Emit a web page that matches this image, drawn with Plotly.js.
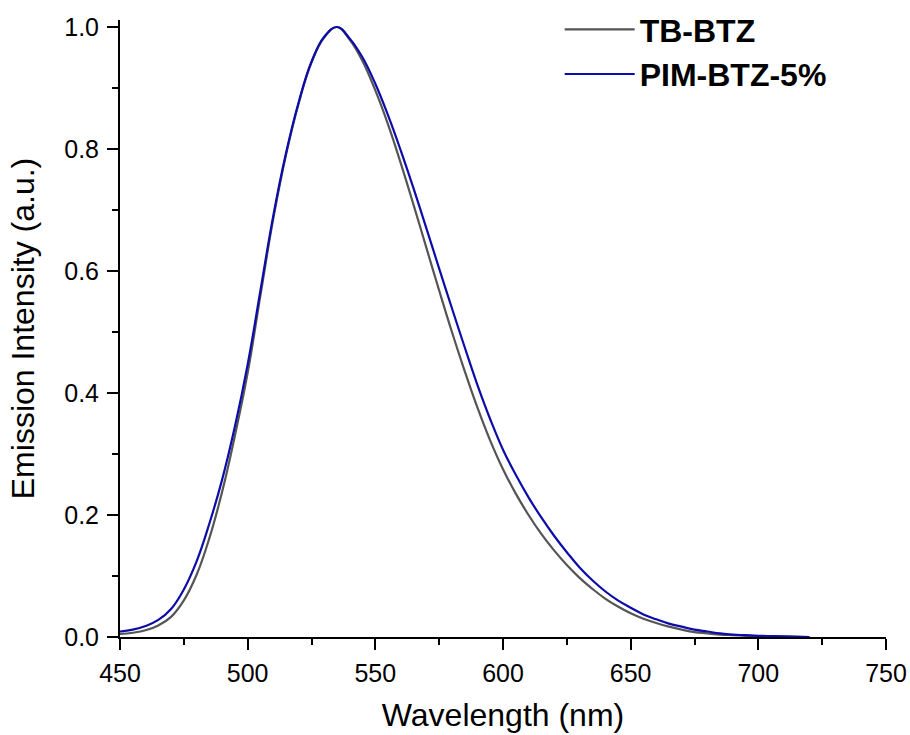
<!DOCTYPE html>
<html>
<head>
<meta charset="utf-8">
<script src="https://cdn.plot.ly/plotly-3.0.1.min.js"></script>
<style>
  html, body { margin: 0; padding: 0; background: #ffffff; }
  #chart { width: 910px; height: 735px; }
</style>
</head>
<body>
<div id="chart"></div>
<script>
// Wavelength grid (nm)
const wavelength = [450, 455, 460, 465, 470, 475, 480, 485, 490, 495, 500, 505, 510, 515, 520, 525, 530, 535, 540, 545, 550, 555, 560, 565, 570, 575, 580, 585, 590, 595, 600, 605, 610, 615, 620, 625, 630, 635, 640, 645, 650, 655, 660, 665, 670, 675, 680, 685, 690, 695, 700, 710, 720];

// TB-BTZ normalized emission
const tbBtz = [0.005, 0.007, 0.011, 0.019, 0.033, 0.060, 0.102, 0.162, 0.238, 0.330, 0.433, 0.560, 0.685, 0.790, 0.875, 0.942, 0.983, 1.000, 0.979, 0.944, 0.896, 0.840, 0.776, 0.708, 0.638, 0.568, 0.500, 0.436, 0.376, 0.322, 0.275, 0.235, 0.200, 0.169, 0.142, 0.118, 0.097, 0.079, 0.063, 0.050, 0.039, 0.030, 0.023, 0.017, 0.012, 0.008, 0.006, 0.004, 0.003, 0.002, 0.001, 0.0005, 0.0];

// PIM-BTZ-5% normalized emission
const pimBtz = [0.009, 0.012, 0.018, 0.028, 0.046, 0.078, 0.124, 0.186, 0.258, 0.345, 0.447, 0.568, 0.690, 0.793, 0.877, 0.943, 0.984, 1.000, 0.981, 0.950, 0.907, 0.855, 0.797, 0.735, 0.670, 0.604, 0.539, 0.475, 0.413, 0.357, 0.307, 0.266, 0.229, 0.196, 0.166, 0.139, 0.114, 0.093, 0.075, 0.060, 0.048, 0.037, 0.029, 0.022, 0.017, 0.012, 0.009, 0.006, 0.004, 0.003, 0.002, 0.001, 0.0];

const seriesNames = ["TB-BTZ", "PIM-BTZ-5%"];
const xTickVals = [450, 500, 550, 600, 650, 700, 750];
const yTickVals = [0.0, 0.2, 0.4, 0.6, 0.8, 1.0];
const yTickText = ["0.0", "0.2", "0.4", "0.6", "0.8", "1.0"];

const FONT = '"Liberation Sans", Arial, "DejaVu Sans", sans-serif';

const traces = [
  {
    x: wavelength, y: tbBtz, name: seriesNames[0],
    type: 'scatter', mode: 'lines',
    line: { color: '#555555', width: 2.2, shape: 'spline', smoothing: 1.2 }
  },
  {
    x: wavelength, y: pimBtz, name: seriesNames[1],
    type: 'scatter', mode: 'lines',
    line: { color: '#0c0caa', width: 2.2, shape: 'spline', smoothing: 1.2 }
  }
];

const layout = {
  width: 910, height: 735,
  paper_bgcolor: '#ffffff', plot_bgcolor: '#ffffff',
  margin: { l: 120, r: 24, t: 20, b: 98, autoexpand: false },
  font: { family: FONT, color: '#000000', size: 25 },
  showlegend: true,
  legend: {
    x: 0.574, y: 1.029, xanchor: 'left', yanchor: 'top',
    bgcolor: 'rgba(0,0,0,0)', borderwidth: 0,
    font: { family: FONT, size: 32, color: '#000000', weight: 'bold' },
    itemwidth: 70,
    tracegroupgap: 0
  },
  xaxis: {
    range: [450, 750],
    tickmode: 'array', tickvals: xTickVals,
    ticks: 'outside', ticklen: 11, tickwidth: 2, tickcolor: '#000000',
    minor: { dtick: 25, tick0: 450, ticks: 'outside', ticklen: 6, tickwidth: 2, tickcolor: '#000000', showgrid: false },
    showline: true, linewidth: 2, linecolor: '#000000',
    showgrid: false, zeroline: false,
    ticklabelstandoff: 2,
    tickfont: { family: FONT, size: 25, color: '#000000' },
    title: { text: 'Wavelength (nm)', font: { family: FONT, size: 32, color: '#000000' }, standoff: 18 }
  },
  yaxis: {
    range: [0, 1.0115],
    tickmode: 'array', tickvals: yTickVals, ticktext: yTickText,
    ticks: 'outside', ticklen: 11, tickwidth: 2, tickcolor: '#000000',
    minor: { dtick: 0.1, tick0: 0, ticks: 'outside', ticklen: 6, tickwidth: 2, tickcolor: '#000000', showgrid: false },
    showline: true, linewidth: 2, linecolor: '#000000',
    showgrid: false, zeroline: false,
    ticklabelstandoff: 3,
    tickfont: { family: FONT, size: 25, color: '#000000' },
    title: { text: 'Emission Intensity (a.u.)', font: { family: FONT, size: 32, color: '#000000' }, standoff: 20 }
  }
};

Plotly.newPlot('chart', traces, layout, { displayModeBar: false, staticPlot: true });
</script>
</body>
</html>
